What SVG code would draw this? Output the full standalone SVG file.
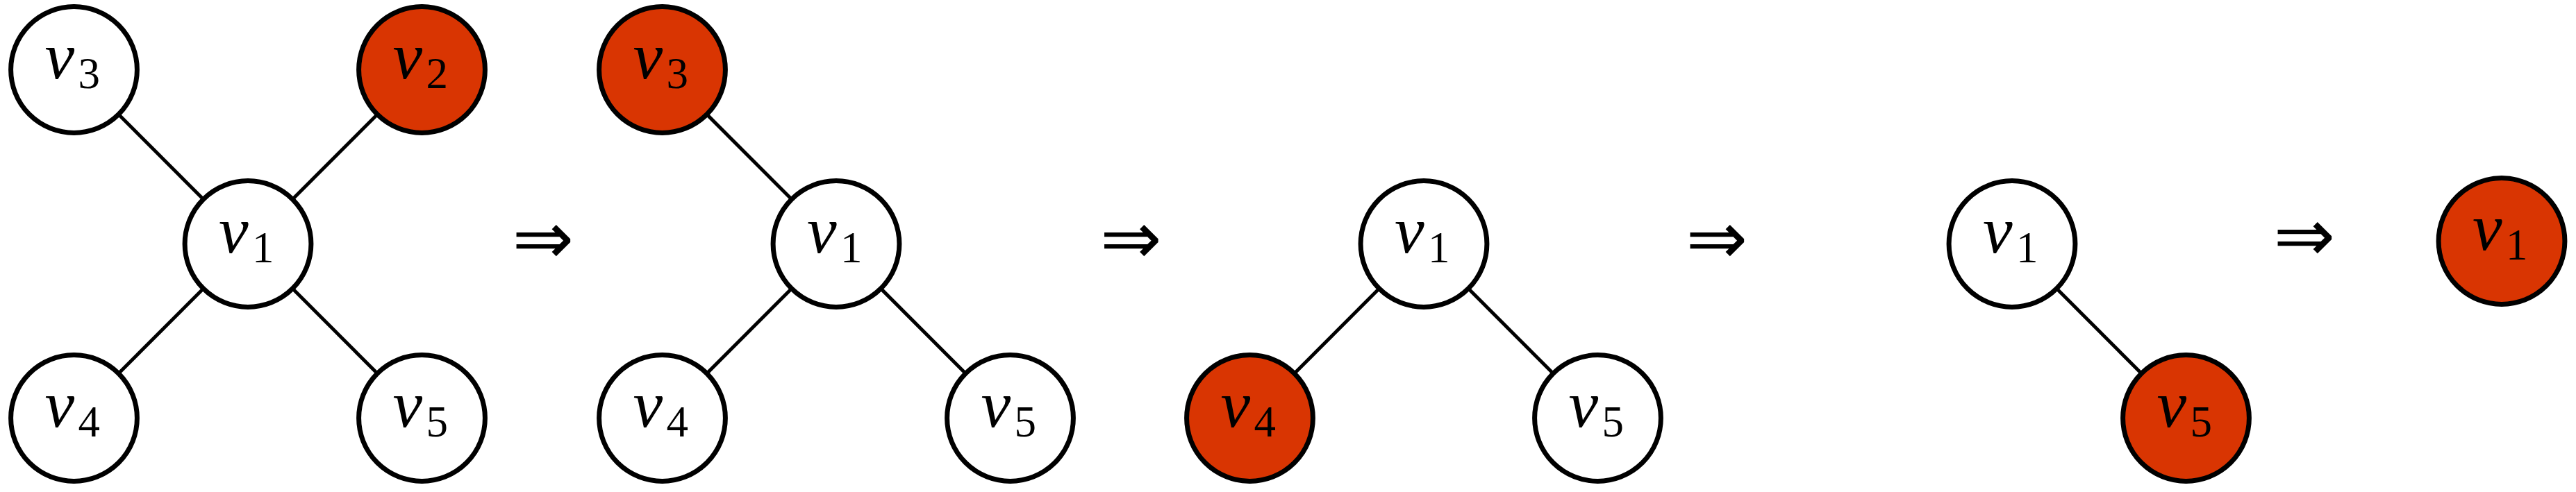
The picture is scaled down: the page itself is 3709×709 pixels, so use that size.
<svg xmlns="http://www.w3.org/2000/svg" width="3709" height="709" viewBox="0 0 3709 709">
<style>
.n{fill:#ffffff;stroke:#000000;stroke-width:7}
.r{fill:#D93502;stroke:#000000;stroke-width:7}
.e{stroke:#000000;stroke-width:5;fill:none}
.v{font-family:"Liberation Serif",serif;font-style:italic;font-size:96px;fill:#000}
.s{font-family:"Liberation Serif",serif;font-style:normal;font-size:63px;fill:#000}
.arr{font-family:"DejaVu Sans",sans-serif;font-size:106px;fill:#000;text-anchor:middle}
</style>
<rect width="3709" height="709" fill="#ffffff"/>
<g id="connectors">
<line class="e" x1="357" y1="351.5" x2="106.5" y2="100.5"/>
<line class="e" x1="357" y1="351.5" x2="607.5" y2="100.5"/>
<line class="e" x1="357" y1="351.5" x2="106.5" y2="602.5"/>
<line class="e" x1="357" y1="351.5" x2="607.5" y2="602.5"/>
<line class="e" x1="1204" y1="351.5" x2="953.5" y2="100.5"/>
<line class="e" x1="1204" y1="351.5" x2="953.5" y2="602.5"/>
<line class="e" x1="1204" y1="351.5" x2="1454.5" y2="602.5"/>
<line class="e" x1="2050" y1="351.5" x2="1799.5" y2="602.5"/>
<line class="e" x1="2050" y1="351.5" x2="2300.5" y2="602.5"/>
<line class="e" x1="2897" y1="351.5" x2="3147.5" y2="602.5"/>
</g>
<g id="p1-v3"><circle class="n" cx="106.5" cy="100.5" r="90.9"/><text class="v" x="64.5" y="112.5">v<tspan class="s" x="112.5" y="126.5">3</tspan></text></g>
<g id="p1-v2"><circle class="r" cx="607.5" cy="100.5" r="90.9"/><text class="v" x="565.5" y="112.5">v<tspan class="s" x="613.5" y="126.5">2</tspan></text></g>
<g id="p1-v1"><circle class="n" cx="357" cy="351.5" r="90.9"/><text class="v" x="315" y="363.5">v<tspan class="s" x="363" y="377.5">1</tspan></text></g>
<g id="p1-v4"><circle class="n" cx="106.5" cy="602.5" r="90.9"/><text class="v" x="64.5" y="614.5">v<tspan class="s" x="112.5" y="628.5">4</tspan></text></g>
<g id="p1-v5"><circle class="n" cx="607.5" cy="602.5" r="90.9"/><text class="v" x="565.5" y="614.5">v<tspan class="s" x="613.5" y="628.5">5</tspan></text></g>
<g id="arrow1"><text class="arr" x="782" y="380">⇒</text></g>
<g id="p2-v3"><circle class="r" cx="953.5" cy="100.5" r="90.9"/><text class="v" x="911.5" y="112.5">v<tspan class="s" x="959.5" y="126.5">3</tspan></text></g>
<g id="p2-v1"><circle class="n" cx="1204" cy="351.5" r="90.9"/><text class="v" x="1162" y="363.5">v<tspan class="s" x="1210" y="377.5">1</tspan></text></g>
<g id="p2-v4"><circle class="n" cx="953.5" cy="602.5" r="90.9"/><text class="v" x="911.5" y="614.5">v<tspan class="s" x="959.5" y="628.5">4</tspan></text></g>
<g id="p2-v5"><circle class="n" cx="1454.5" cy="602.5" r="90.9"/><text class="v" x="1412.5" y="614.5">v<tspan class="s" x="1460.5" y="628.5">5</tspan></text></g>
<g id="arrow2"><text class="arr" x="1628.5" y="380">⇒</text></g>
<g id="p3-v1"><circle class="n" cx="2050" cy="351.5" r="90.9"/><text class="v" x="2008" y="363.5">v<tspan class="s" x="2056" y="377.5">1</tspan></text></g>
<g id="p3-v4"><circle class="r" cx="1799.5" cy="602.5" r="90.9"/><text class="v" x="1757.5" y="614.5">v<tspan class="s" x="1805.5" y="628.5">4</tspan></text></g>
<g id="p3-v5"><circle class="n" cx="2300.5" cy="602.5" r="90.9"/><text class="v" x="2258.5" y="614.5">v<tspan class="s" x="2306.5" y="628.5">5</tspan></text></g>
<g id="arrow3"><text class="arr" x="2472" y="380">⇒</text></g>
<g id="p4-v1"><circle class="n" cx="2897" cy="351.5" r="90.9"/><text class="v" x="2855" y="363.5">v<tspan class="s" x="2903" y="377.5">1</tspan></text></g>
<g id="p4-v5"><circle class="r" cx="3147.5" cy="602.5" r="90.9"/><text class="v" x="3105.5" y="614.5">v<tspan class="s" x="3153.5" y="628.5">5</tspan></text></g>
<g id="arrow4"><text class="arr" x="3318" y="376">⇒</text></g>
<g id="p5-v1"><circle class="r" cx="3602" cy="347.5" r="90.9"/><text class="v" x="3560" y="359.5">v<tspan class="s" x="3608" y="373.5">1</tspan></text></g>
</svg>
